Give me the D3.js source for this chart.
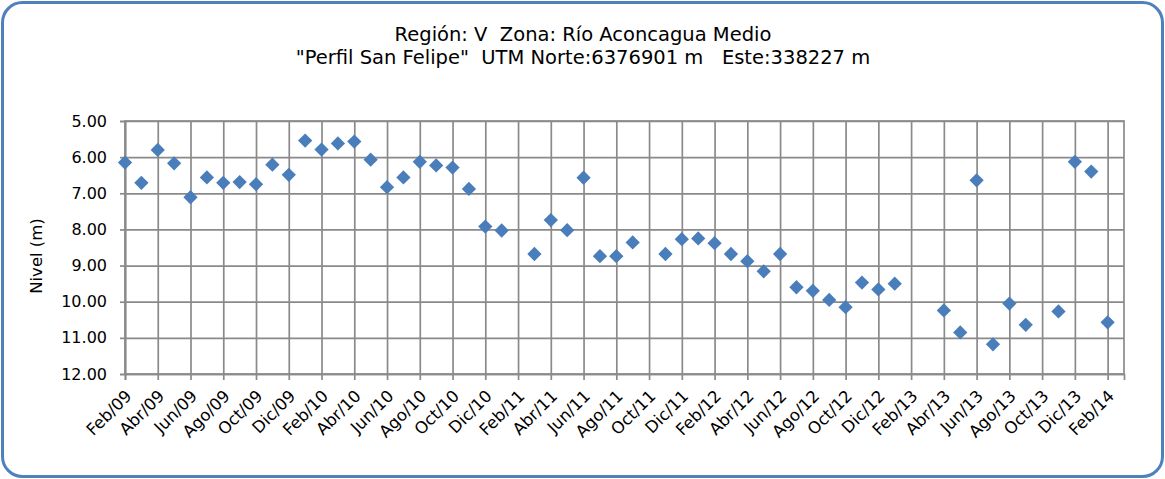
<!DOCTYPE html>
<html>
<head>
<meta charset="utf-8">
<script src="https://cdn.jsdelivr.net/npm/d3@7"></script>
<style>
  html, body { margin: 0; padding: 0; background: #ffffff; }
  svg { display: block; }
</style>
</head>
<body>
<svg id="chart" width="1165" height="479"></svg>
<script>
// Monthly water-level readings (m below ground), month offset from Feb/2009
const mesIndice = [0, 1, 2, 3, 4, 5, 6, 7, 8, 9, 10, 11, 12, 13, 14, 15, 16, 17, 18, 19, 20, 21, 22, 23,
                   25, 26, 27, 28, 29, 30, 31, 33, 34, 35, 36, 37, 38, 39, 40, 41, 42, 43, 44, 45, 46, 47,
                   50, 51, 52, 53, 54, 55, 57, 58, 59, 60];
const nivel = [6.15, 6.71, 5.80, 6.17, 7.11, 6.56, 6.71, 6.69, 6.75, 6.21, 6.49, 5.54, 5.79, 5.62, 5.57, 6.07,
               6.83, 6.56, 6.13, 6.23, 6.29, 6.88, 7.92, 8.03,
               8.68, 7.74, 8.02, 6.57, 8.74, 8.74, 8.36, 8.68, 8.27, 8.25, 8.38, 8.68, 8.88, 9.16, 8.68,
               9.60, 9.70, 9.95, 10.15, 9.47, 9.66, 9.50,
               10.24, 10.85, 6.64, 11.18, 10.05, 10.64, 10.27, 6.13, 6.40, 10.57];

// Axis labels
const etiquetasX = ["Feb/09", "Abr/09", "Jun/09", "Ago/09", "Oct/09", "Dic/09",
                    "Feb/10", "Abr/10", "Jun/10", "Ago/10", "Oct/10", "Dic/10",
                    "Feb/11", "Abr/11", "Jun/11", "Ago/11", "Oct/11", "Dic/11",
                    "Feb/12", "Abr/12", "Jun/12", "Ago/12", "Oct/12", "Dic/12",
                    "Feb/13", "Abr/13", "Jun/13", "Ago/13", "Oct/13", "Dic/13", "Feb/14"];
const ticksY = [5, 6, 7, 8, 9, 10, 11, 12];
const titulo = ["Región: V  Zona: Río Aconcagua Medio",
                "\"Perfil San Felipe\"  UTM Norte:6376901 m   Este:338227 m"];
const tituloEjeY = "Nivel (m)";

const svg = d3.select("#chart");
const W = 1165, H = 479;
const plot = { left: 125, right: 1124, top: 121, bottom: 374 };

// Outer frame
svg.append("rect")
  .attr("x", 2.5).attr("y", 2.5)
  .attr("width", W - 5).attr("height", H - 5)
  .attr("rx", 20).attr("ry", 20)
  .attr("fill", "#ffffff")
  .attr("stroke", "#4f81bd")
  .attr("stroke-width", 3);

// Title (two centred lines, spacing kept)
svg.append("g").selectAll("text")
  .data(titulo).join("text")
  .attr("x", 583)
  .attr("y", (d, i) => 41 + i * 23)
  .attr("text-anchor", "middle")
  .style("white-space", "pre")
  .attr("font-family", "'DejaVu Sans', Verdana, sans-serif")
  .attr("font-size", 19.5)
  .attr("fill", "#000000")
  .text(d => d);

// Scales
const x = d3.scaleLinear().domain([0, 61]).range([plot.left, plot.right]);
const y = d3.scaleLinear().domain([5, 12]).range([plot.top, plot.bottom]);
const tickMes = etiquetasX.map((d, i) => i * 2);

const grid = "#8a8a8a";

// Horizontal gridlines
svg.append("g")
  .attr("transform", `translate(${plot.left},0)`)
  .call(d3.axisLeft(y).tickValues(ticksY).tickSize(-(plot.right - plot.left)).tickFormat(""))
  .call(g => g.select(".domain").remove())
  .call(g => g.selectAll("line").attr("stroke", grid).attr("stroke-width", 1.7));

// Vertical gridlines
svg.append("g")
  .attr("transform", `translate(0,${plot.top})`)
  .call(d3.axisBottom(x).tickValues(tickMes).tickSize(plot.bottom - plot.top).tickFormat(""))
  .call(g => g.select(".domain").remove())
  .call(g => g.selectAll("line").attr("stroke", grid).attr("stroke-width", 1.7));

// Plot border
svg.append("rect")
  .attr("x", plot.left).attr("y", plot.top)
  .attr("width", plot.right - plot.left).attr("height", plot.bottom - plot.top)
  .attr("fill", "none").attr("stroke", grid).attr("stroke-width", 1.7);

// Y axis with labels
svg.append("g")
  .attr("transform", `translate(${plot.left},0)`)
  .call(d3.axisLeft(y).tickValues(ticksY).tickSize(5).tickPadding(13).tickFormat(d3.format(".2f")))
  .call(g => g.select(".domain").attr("stroke", grid).attr("stroke-width", 1.7))
  .call(g => g.selectAll("line").attr("stroke", grid).attr("stroke-width", 1.7))
  .call(g => g.selectAll("text")
    .attr("font-family", "'DejaVu Sans', Verdana, sans-serif")
    .attr("font-size", 16).attr("fill", "#000000"));

// X axis with rotated labels
const ejeX = svg.append("g")
  .attr("transform", `translate(0,${plot.bottom})`)
  .call(d3.axisBottom(x).tickValues(tickMes).tickSize(6).tickFormat((d, i) => etiquetasX[i]))
  .call(g => g.select(".domain").attr("stroke", grid).attr("stroke-width", 1.7))
  .call(g => g.selectAll("line").attr("stroke", grid).attr("stroke-width", 1.7));
ejeX.selectAll("text")
  .attr("font-family", "'DejaVu Sans', Verdana, sans-serif")
  .attr("font-size", 16.5).attr("fill", "#000000")
  .attr("text-anchor", "end")
  .attr("dy", "0.35em")
  .attr("transform", "translate(3,19) rotate(-45)")
  .attr("y", 0).attr("x", 0);

// Y axis title
svg.append("text")
  .attr("transform", "translate(42,256) rotate(-90)")
  .attr("text-anchor", "middle")
  .attr("font-family", "'DejaVu Sans', Verdana, sans-serif")
  .attr("font-size", 16.5)
  .attr("fill", "#000000")
  .text(tituloEjeY);

// Diamond markers
const puntos = mesIndice.map((m, i) => ({ m, v: nivel[i] }));
svg.append("g").selectAll("path")
  .data(puntos).join("path")
  .attr("transform", d => `translate(${x(d.m)},${y(d.v)})`)
  .attr("d", d3.symbol().type(d3.symbolDiamond2).size(130))
  .attr("fill", "#4a7ebb");
</script>
</body>
</html>
